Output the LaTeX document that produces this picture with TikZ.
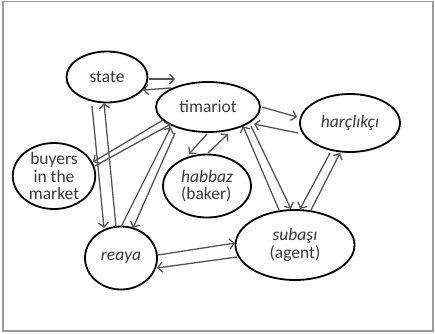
\documentclass[tikz,border=0pt]{standalone}
\usepackage{fontspec}
\setmainfont{Carlito}
\usepackage{tikz}
\usetikzlibrary{shapes.geometric,arrows.meta,calc}
\definecolor{inkgray}{HTML}{3A3A3A}
\definecolor{arrgray}{HTML}{555555}
\definecolor{frmgray}{HTML}{9A9A9A}
\tikzset{
  ell/.style={ellipse,draw=black,line width=1.8pt,fill=white,inner sep=0pt,
              text=inkgray,align=center},
  arr/.style={-{Straight Barb[length=4.5pt,width=10pt]},line width=1.3pt,color=arrgray},
  frm/.style={draw=frmgray,line width=1.5pt},
}

\begin{document}
\begin{tikzpicture}[x=1pt,y=-1pt,font=\fontsize{17.5}{17.5}\selectfont]
  \useasboundingbox (0,0) rectangle (435,333);
  \draw[frm] (3,1.5) rectangle (433,331);

  \node[ell,minimum width=81pt,minimum height=51pt]  (state)    at (107,77)  {state};
  \node[ell,minimum width=104pt,minimum height=50pt] (timariot) at (208,107) {timariot};
  \node[ell,minimum width=100pt,minimum height=58pt] (harc)     at (350,123) {\itshape harçlıkçı};
  \node[ell,minimum width=82pt,minimum height=66pt,inner xsep=4pt,inner ysep=-3pt]
                                                    (buyers)   at (54,176)  {buyers\\in the\\market};
  \node[ell,minimum width=88pt,minimum height=63pt,align=left]
                                                    (habbaz)   at (207,186) {{\itshape habbaz}\\(baker)};
  \node[ell,minimum width=72pt,minimum height=63pt]  (reaya)    at (121,258) {\itshape reaya};
  \node[ell,minimum width=119pt,minimum height=70pt] (subasi)   at (295,245) {{\itshape subaşı}\\(agent)};

  % state <-> timariot
  \draw[arr] ($(state)+(42,2)$)      -- ($(timariot)+(-33,-28)$);
  \draw[arr] ($(timariot)+(-37,-19)$) -- ($(state)+(36,13)$);
  % timariot <-> harcl
  \draw[arr] ($(timariot)+(54,0)$)   -- ($(harc)+(-53,-6)$);
  \draw[arr] ($(harc)+(-52,10)$)     -- ($(timariot)+(46,17)$);
  % timariot <-> habbaz
  \draw[arr] ($(timariot)+(-1,27)$)  -- ($(habbaz)+(-18,-32)$);
  \draw[arr] ($(habbaz)+(1,-33)$)    -- ($(timariot)+(20,27)$);
  % timariot <-> buyers
  \draw[arr] ($(timariot)+(-45,13)$) -- ($(buyers)+(39,-14)$);
  \draw[arr] ($(buyers)+(41,-10)$)   -- ($(timariot)+(-37,17)$);
  % state <-> reaya
  \draw[arr] ($(state)+(-15,29)$)    -- ($(reaya)+(-17,-30)$);
  \draw[arr] ($(reaya)+(-5,-31)$)    -- ($(state)+(-3,26)$);
  % reaya <-> timariot
  \draw[arr] ($(reaya)+(0,-31)$)     -- ($(timariot)+(-37,20)$);
  \draw[arr] ($(timariot)+(-33,26)$) -- ($(reaya)+(12,-30)$);
  % subasi <-> timariot
  \draw[arr] ($(subasi)+(-16,-35)$)  -- ($(timariot)+(35,19)$);
  \draw[arr] ($(timariot)+(43,19)$)  -- ($(subasi)+(-4,-36)$);
  % harcl <-> subasi
  \draw[arr] ($(harc)+(-20,30)$)     -- ($(subasi)+(5,-36)$);
  \draw[arr] ($(subasi)+(16,-35)$)   -- ($(harc)+(-10,30)$);
  % reaya <-> subasi
  \draw[arr] ($(reaya)+(37,-3)$)     -- ($(subasi)+(-60,-2)$);
  \draw[arr] ($(subasi)+(-58,12)$)   -- ($(reaya)+(36,10)$);
\end{tikzpicture}
\end{document}
